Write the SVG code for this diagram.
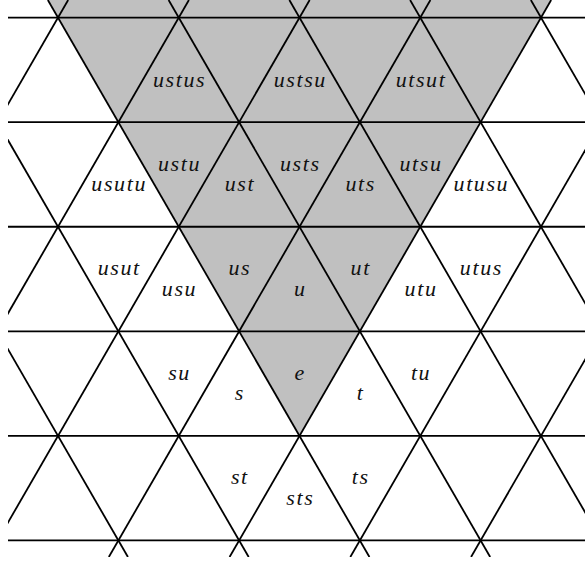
<svg xmlns="http://www.w3.org/2000/svg" width="585" height="562" viewBox="0 0 585 562">
<style>
.ln{stroke:#000;stroke-width:1.8;fill:none}
.lb{font-family:'Liberation Serif','DejaVu Serif',serif;font-style:italic;font-size:22px;letter-spacing:1.6px;fill:#111;text-anchor:middle}
</style>
<defs>
<clipPath id="clip"><rect x="8" y="0" width="590" height="557"/></clipPath>
</defs>
<rect width="585" height="562" fill="#fff"/>
<g clip-path="url(#clip)">
<polygon id="shaded" points="47.84,0 551.16,0 299.5,435.88" fill="#c0c0c0"/>
<g id="connectors" class="ln">
<line x1="0" y1="17.6" x2="600" y2="17.6"/>
<line x1="0" y1="122.17" x2="600" y2="122.17"/>
<line x1="0" y1="226.74" x2="600" y2="226.74"/>
<line x1="0" y1="331.31" x2="600" y2="331.31"/>
<line x1="0" y1="435.88" x2="600" y2="435.88"/>
<line x1="0" y1="540.45" x2="600" y2="540.45"/>
<line x1="-193.66" y1="0" x2="127.92" y2="557"/>
<line x1="-72.91" y1="0" x2="248.67" y2="557"/>
<line x1="47.84" y1="0" x2="369.42" y2="557"/>
<line x1="168.59" y1="0" x2="490.17" y2="557"/>
<line x1="289.34" y1="0" x2="610.92" y2="557"/>
<line x1="410.09" y1="0" x2="731.67" y2="557"/>
<line x1="530.84" y1="0" x2="852.42" y2="557"/>
<line x1="68.16" y1="0" x2="-253.42" y2="557"/>
<line x1="188.91" y1="0" x2="-132.67" y2="557"/>
<line x1="309.66" y1="0" x2="-11.92" y2="557"/>
<line x1="430.41" y1="0" x2="108.83" y2="557"/>
<line x1="551.16" y1="0" x2="229.58" y2="557"/>
<line x1="671.91" y1="0" x2="350.33" y2="557"/>
<line x1="792.66" y1="0" x2="471.08" y2="557"/>
</g>
</g>
<g id="labels" class="lb">
<g id="n-ustus"><text x="179.55" y="86.6">ustus</text></g>
<g id="n-ustsu"><text x="300.3" y="86.6">ustsu</text></g>
<g id="n-utsut"><text x="421.05" y="86.6">utsut</text></g>
<g id="n-usutu"><text x="119.2" y="191.2">usutu</text></g>
<g id="n-ust"><text x="239.9" y="191.2">ust</text></g>
<g id="n-uts"><text x="360.7" y="191.2">uts</text></g>
<g id="n-utusu"><text x="481.4" y="191.2">utusu</text></g>
<g id="n-ustu"><text x="179.55" y="170.5">ustu</text></g>
<g id="n-usts"><text x="300.3" y="170.5">usts</text></g>
<g id="n-utsu"><text x="421.05" y="170.5">utsu</text></g>
<g id="n-usut"><text x="119.2" y="275">usut</text></g>
<g id="n-us"><text x="239.9" y="275">us</text></g>
<g id="n-ut"><text x="360.7" y="275">ut</text></g>
<g id="n-utus"><text x="481.4" y="275">utus</text></g>
<g id="n-usu"><text x="179.55" y="295.7">usu</text></g>
<g id="n-u"><text x="300.3" y="295.7">u</text></g>
<g id="n-utu"><text x="421.05" y="295.7">utu</text></g>
<g id="n-su"><text x="179.55" y="379.6">su</text></g>
<g id="n-e"><text x="300.3" y="379.6">e</text></g>
<g id="n-tu"><text x="421.05" y="379.6">tu</text></g>
<g id="n-s"><text x="239.9" y="400.3">s</text></g>
<g id="n-t"><text x="360.7" y="400.3">t</text></g>
<g id="n-st"><text x="239.9" y="484.2">st</text></g>
<g id="n-ts"><text x="360.7" y="484.2">ts</text></g>
<g id="n-sts"><text x="300.3" y="504.9">sts</text></g>
</g>
</svg>
